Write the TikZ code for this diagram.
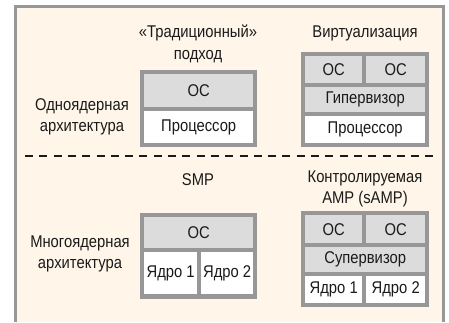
\documentclass[tikz,border=0pt]{standalone}
\usepackage{fontspec}
\setmainfont{Liberation Sans}[FakeStretch=0.87]
\usepackage{tikz}
\definecolor{panelbg}{HTML}{FFF6E9}
\definecolor{framegray}{HTML}{979797}
\definecolor{cellgray}{HTML}{DCDCDC}
\definecolor{inkgray}{HTML}{1A1A1A}
\tikzset{
  block/.style={fill=framegray, inner sep=0pt, anchor=north west},
  oscell/.style={fill=cellgray, inner sep=0pt, anchor=north west, text=inkgray},
  hwcell/.style={fill=white, inner sep=0pt, anchor=north west, text=inkgray},
  heading/.style={align=center, text=inkgray, inner sep=0pt}
}

\begin{document}
\begin{tikzpicture}[x=1pt, y=-1pt, font=\fontsize{17}{21.5}\selectfont]
        \useasboundingbox (0,0) rectangle (449,322);

        % Draw the panel
        \fill[panelbg] (15.5,6.5) rectangle (443.5,322);
        \draw[framegray, line width=3pt] (15.5,322) -- (15.5,6.5) -- (443.5,6.5) -- (443.5,322);

        % Column and row captions
        \node[heading] (tradcap) at (198,44) {«Традиционный»\\подход};
        \node[heading] (virtcap) at (365,33) {Виртуализация};
        \node[heading] (singlecap) at (82,117) {Одноядерная\\архитектура};
        \node[heading] (smpcap) at (198,180) {SMP};
        \node[heading] (sampcap) at (365,189) {Контролируемая\\AMP (sAMP)};
        \node[heading] (multicap) at (80,254) {Многоядерная\\архитектура};

        % Separator between single core and multicore
        \draw[inkgray, line width=2.5pt, dash pattern=on 8pt off 6.3pt] (25,156) -- (438,156);

        % Traditional approach
        \node[block, minimum width=117pt, minimum height=77pt] (tradblk) at (140,70) {};
        \node[oscell, minimum width=109pt, minimum height=33pt] (trados) at (144,74) {ОС};
        \node[hwcell, minimum width=109pt, minimum height=32pt] (tradcpu) at (144,111) {Процессор};

        % Virtualization
        \node[block, minimum width=128pt, minimum height=95pt] (virtblk) at (301,52) {};
        \node[oscell, minimum width=57pt, minimum height=27pt] (virtosa) at (305,56) {ОС};
        \node[oscell, minimum width=59pt, minimum height=27pt] (virtosb) at (366,56) {ОС};
        \node[oscell, minimum width=120pt, minimum height=25pt] (virthyp) at (305,87) {Гипервизор};
        \node[hwcell, minimum width=120pt, minimum height=27pt] (virtcpu) at (305,116) {Процессор};

        % SMP
        \node[block, minimum width=117pt, minimum height=86pt] (smpblk) at (140,213) {};
        \node[oscell, minimum width=109pt, minimum height=31pt] (smpos) at (144,217) {ОС};
        \node[hwcell, minimum width=53pt, minimum height=42pt] (smpcorea) at (144,252) {Ядро 1};
        \node[hwcell, minimum width=52pt, minimum height=42pt] (smpcoreb) at (201,252) {Ядро 2};

        % Supervised AMP
        \node[block, minimum width=128pt, minimum height=96pt] (sampblk) at (301,211) {};
        \node[oscell, minimum width=57pt, minimum height=28pt] (samposa) at (305,215) {ОС};
        \node[oscell, minimum width=59pt, minimum height=28pt] (samposb) at (366,215) {ОС};
        \node[oscell, minimum width=120pt, minimum height=25pt] (sampsup) at (305,247) {Супервизор};
        \node[hwcell, minimum width=57pt, minimum height=27pt] (sampcorea) at (305,276) {Ядро 1};
        \node[hwcell, minimum width=59pt, minimum height=27pt] (sampcoreb) at (366,276) {Ядро 2};
    \end{tikzpicture}
\end{document}
